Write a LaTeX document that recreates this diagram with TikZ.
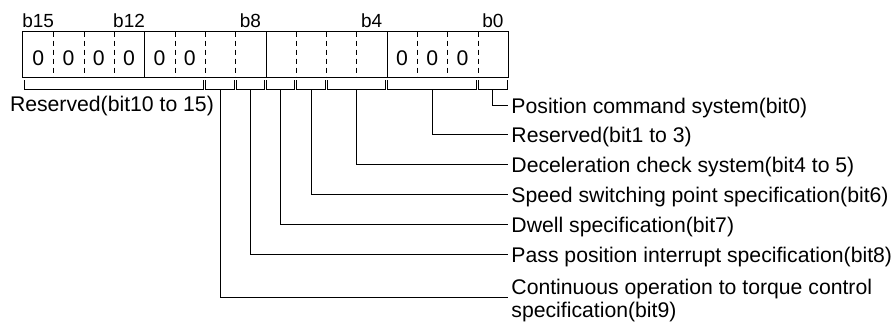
\documentclass[tikz,border=0pt]{standalone}
\usepackage{fontspec}
\setmainfont{Liberation Sans}
\usetikzlibrary{calc}

\begin{document}
\begin{tikzpicture}[x=0.75pt,y=0.75pt,line width=0.7pt,
  cell/.style={minimum width=22.73pt,minimum height=33.75pt,inner sep=0pt,
    text height=15.9pt,text depth=0pt,font=\fontsize{15.9pt}{18pt}\selectfont},
  bitno/.style={anchor=base,inner sep=0pt,font=\fontsize{14.25pt}{16pt}\selectfont},
  desc/.style={anchor=west,inner sep=2.25pt,text height=12.7pt,text depth=0pt,
    font=\fontsize{15.9pt}{18pt}\selectfont},
  twoline/.style={anchor=west,inner sep=2.25pt,align=left,
    font=\fontsize{15.9pt}{17.25pt}\selectfont},
  divdash/.style={dash pattern=on 3.75pt off 3pt}]
  \useasboundingbox (0,0) rectangle (896,-325);
  % register cells, b15 on the left
  \foreach \n/\v in {15/0,14/0,13/0,12/0,11/0,10/0,9/{},8/{},7/{},6/{},5/{},4/{},3/0,2/0,1/0,0/{}}
    \node[cell] (c\n) at ({23+(15.5-\n)*30.3125},-54.5) {\v};
  \draw (c15.north west) rectangle (c0.south east);
  \foreach \n in {12,8,4} \draw (c\n.north east) -- (c\n.south east);
  \foreach \n in {15,14,13,11,10,9,7,6,5,3,2,1}
    \draw[divdash] (c\n.north east) -- (c\n.south east);
  \foreach \n in {15,12,8,4,0}
    \node[bitno] (t\n) at ($(c\n.north)+(0,4)$) {b\n};
  % brackets under the fields
  \foreach \h/\l in {15/10,9/9,8/8,7/7,6/6,5/4,3/1,0/0} {
    \draw ($(c\h.south west)+(1.5,-3)$) -- ++(0,-9) -| ($(c\l.south east)+(-1.5,-3)$);
    \coordinate (f\l) at ($(c\h.south west)!0.5!(c\l.south east)+(0,-12)$);
  }
  % field descriptions
  \node[desc] (d0) at (508,-105) {Position command system(bit0)};
  \node[desc] (d1) at (508,-134.5) {Reserved(bit1 to 3)};
  \node[desc] (d4) at (508,-164) {Deceleration check system(bit4 to 5)};
  \node[desc] (d6) at (508,-194) {Speed switching point specification(bit6)};
  \node[desc] (d7) at (508,-224) {Dwell specification(bit7)};
  \node[desc] (d8) at (508,-254) {Pass position interrupt specification(bit8)};
  \node[twoline] (d9) at (508,-301) {Continuous operation to torque control\\specification(bit9)};
  \node[desc,anchor=base] (d10) at ($(f10)+(-2,-22)$) {Reserved(bit10 to 15)};
  \foreach \n in {0,1,4,6,7,8} \draw (f\n) |- (d\n.west);
  \draw (f9) |- ([yshift=3pt]d9.west);
\end{tikzpicture}
\end{document}
